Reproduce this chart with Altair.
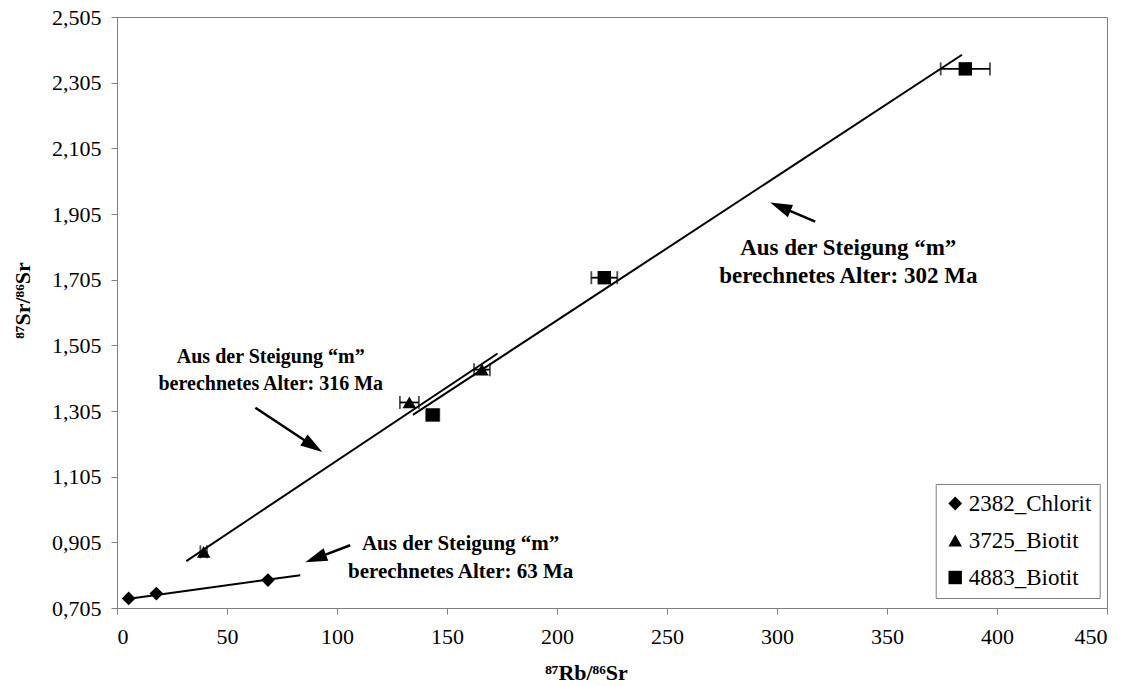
import math
import altair as alt
import pandas as pd

# --- measured samples: 87Rb/86Sr, 87Sr/86Sr and error on 87Rb/86Sr ---
series_names = ["2382_Chlorit", "3725_Biotit", "4883_Biotit"]

chl_rb = [5.3, 17.9, 68.6]
chl_sr = [0.734, 0.749, 0.790]
chl_err = [0.0, 0.0, 0.0]

b3725_rb = [39.4, 132.9, 165.9]
b3725_sr = [0.876, 1.331, 1.431]
b3725_err = [1.5, 4.3, 3.6]

b4883_rb = [143.5, 221.5, 385.6]
b4883_sr = [1.293, 1.711, 2.347]
b4883_err = [3.0, 5.9, 11.2]

# --- isochron end points per sample ---
chl_iso_rb = [3.0, 83.3]
chl_iso_sr = [0.731, 0.805]
b3725_iso_rb = [31.5, 173.0]
b3725_iso_sr = [0.848, 1.480]
b4883_iso_rb = [134.5, 384.1]
b4883_iso_sr = [1.293, 2.390]

# --- annotations ---
note_head = "Aus der Steigung \u201cm\u201d"
note_ages = ["berechnetes Alter: 316 Ma", "berechnetes Alter: 302 Ma", "berechnetes Alter: 63 Ma"]
note_x = [69.9, 332.4, 156.2]
note_y1 = [1.470, 1.800, 0.8995]
note_y2 = [1.388, 1.717, 0.814]
note_size = [20, 23, 21]

arrow_x0 = [62.9, 317.4, 106.0]
arrow_y0 = [1.315, 1.882, 0.896]
arrow_x1 = [93.3, 296.9, 85.6]
arrow_y1 = [1.180, 1.940, 0.844]

x_ticks = [0, 50, 100, 150, 200, 250, 300, 350, 400, 450]
y_ticks = [0.705, 0.905, 1.105, 1.305, 1.505, 1.705, 1.905, 2.105, 2.305, 2.505]

W, H = 990, 591
X_DOM = [0, 450]
Y_DOM = [0.705, 2.505]
FONT = "Liberation Serif"
GRAY = "#808080"

# ---------- tables ----------
pts = []
for name, xs, ys, es in zip(series_names,
                            [chl_rb, b3725_rb, b4883_rb],
                            [chl_sr, b3725_sr, b4883_sr],
                            [chl_err, b3725_err, b4883_err]):
    for x, y, e in zip(xs, ys, es):
        pts.append({"series": name, "rb": x, "sr": y, "err": e, "lo": x - e, "hi": x + e})
pts = pd.DataFrame(pts)
errs = pts[pts["err"] > 0]

iso = []
for name, xs, ys in zip(series_names,
                        [chl_iso_rb, b3725_iso_rb, b4883_iso_rb],
                        [chl_iso_sr, b3725_iso_sr, b4883_iso_sr]):
    for x, y in zip(xs, ys):
        iso.append({"series": name, "rb": x, "sr": y})
iso = pd.DataFrame(iso)

kx = W / (X_DOM[1] - X_DOM[0])
ky = H / (Y_DOM[1] - Y_DOM[0])
HEAD = 22.0
arrows = []
for x0, y0, x1, y1 in zip(arrow_x0, arrow_y0, arrow_x1, arrow_y1):
    dx = (x1 - x0) * kx
    dy = -(y1 - y0) * ky
    length = math.hypot(dx, dy)
    ang = math.degrees(math.atan2(dx, -dy)) % 360
    f = max(0.0, (length - HEAD * 0.6) / length)
    arrows.append({"x0": x0, "y0": y0, "xs": x0 + (x1 - x0) * f, "ys": y0 + (y1 - y0) * f,
                   "x1": x1, "y1": y1, "ang": ang})
arrows = pd.DataFrame(arrows)

notes = []
for i, (age, x, ya, yb, fs) in enumerate(zip(note_ages, note_x, note_y1, note_y2, note_size)):
    notes.append({"i": i, "txt": note_head, "x": x, "y": ya, "fs": fs})
    notes.append({"i": i, "txt": age, "x": x, "y": yb, "fs": fs})
notes = pd.DataFrame(notes)

# ---------- scales / axes ----------
xs = alt.Scale(domain=X_DOM, nice=False, zero=False)
ys = alt.Scale(domain=Y_DOM, nice=False, zero=False)

x_axis = alt.Axis(values=x_ticks, title="\u2078\u2077Rb/\u2078\u2076Sr", grid=False,
                  labelFont=FONT, labelFontSize=22, labelColor="black", labelPadding=12,
                  tickSize=6, tickColor=GRAY, domainColor=GRAY,
                  titleFont=FONT, titleFontSize=22, titleFontWeight="bold", titleColor="black",
                  titleX=469, titleY=64, titleAlign="center", titleBaseline="middle")
y_axis = alt.Axis(values=y_ticks, title="\u2078\u2077Sr/\u2078\u2076Sr", grid=False,
                  labelExpr="replace(format(datum.value, '.3f'), '.', ',')",
                  labelFont=FONT, labelFontSize=22, labelColor="black", labelPadding=10,
                  tickSize=6, tickColor=GRAY, domainColor=GRAY,
                  titleFont=FONT, titleFontSize=22, titleFontWeight="bold", titleColor="black",
                  titleX=-95, titleY=283, titleAngle=-90, titleAlign="center", titleBaseline="middle")

legend = alt.Legend(title=None, orient="none", legendX=818.7, legendY=467,
                    fillColor="white", strokeColor=GRAY, padding=8, rowPadding=13,
                    labelFont=FONT, labelFontSize=23, labelColor="black", labelOffset=2,
                    symbolFillColor="black", symbolStrokeColor="black", symbolStrokeWidth=0)

# ---------- layers ----------
lines = alt.Chart(iso).mark_line(color="black", strokeWidth=2).encode(
    x=alt.X("rb:Q", scale=xs, axis=x_axis),
    y=alt.Y("sr:Q", scale=ys, axis=y_axis),
    detail="series:N",
)

bars = alt.Chart(errs).mark_rule(color="black", strokeWidth=1.8).encode(
    x="lo:Q", x2="hi:Q", y="sr:Q")
cap_lo = alt.Chart(errs).mark_tick(color="black", orient="vertical", size=13, thickness=1.8).encode(
    x="lo:Q", y="sr:Q")
cap_hi = alt.Chart(errs).mark_tick(color="black", orient="vertical", size=13, thickness=1.8).encode(
    x="hi:Q", y="sr:Q")

points = alt.Chart(pts).mark_point(filled=True, color="black", opacity=1).encode(
    x="rb:Q", y="sr:Q",
    shape=alt.Shape("series:N", scale=alt.Scale(domain=series_names,
                                                range=["diamond", "triangle-up", "square"]),
                    legend=legend),
    size=alt.Size("series:N", scale=alt.Scale(domain=series_names, range=[190, 180, 480]),
                  legend=legend),
)

shafts = alt.Chart(arrows).mark_rule(color="black", strokeWidth=2.5).encode(
    x="x0:Q", y="y0:Q", x2="xs:Q", y2="ys:Q")
heads = alt.Chart(arrows).mark_point(
    filled=True, color="black", opacity=1, shape="M0,0L-0.6,2L0.6,2Z", size=HEAD * HEAD
).encode(x="x1:Q", y="y1:Q", angle=alt.Angle("ang:Q", scale=None))

texts = []
for i, fs in enumerate(note_size):
    texts.append(
        alt.Chart(notes[notes["i"] == i]).mark_text(
            font=FONT, fontWeight="bold", fontSize=fs, color="black",
            align="center", baseline="middle"
        ).encode(x="x:Q", y="y:Q", text="txt:N")
    )

chart = alt.layer(lines, bars, cap_lo, cap_hi, points, shafts, heads, *texts).properties(
    width=W, height=H,
    autosize=alt.AutoSizeParams(type="none"),
    padding={"left": 117, "top": 17, "right": 28, "bottom": 78},
    background="white",
).configure(font=FONT).configure_axis(
    labelFont=FONT, titleFont=FONT
).configure_legend(
    labelFont=FONT
).configure_view(stroke=GRAY, strokeWidth=1)

chart.save("out.html", embed_options={"renderer": "svg", "actions": False})
